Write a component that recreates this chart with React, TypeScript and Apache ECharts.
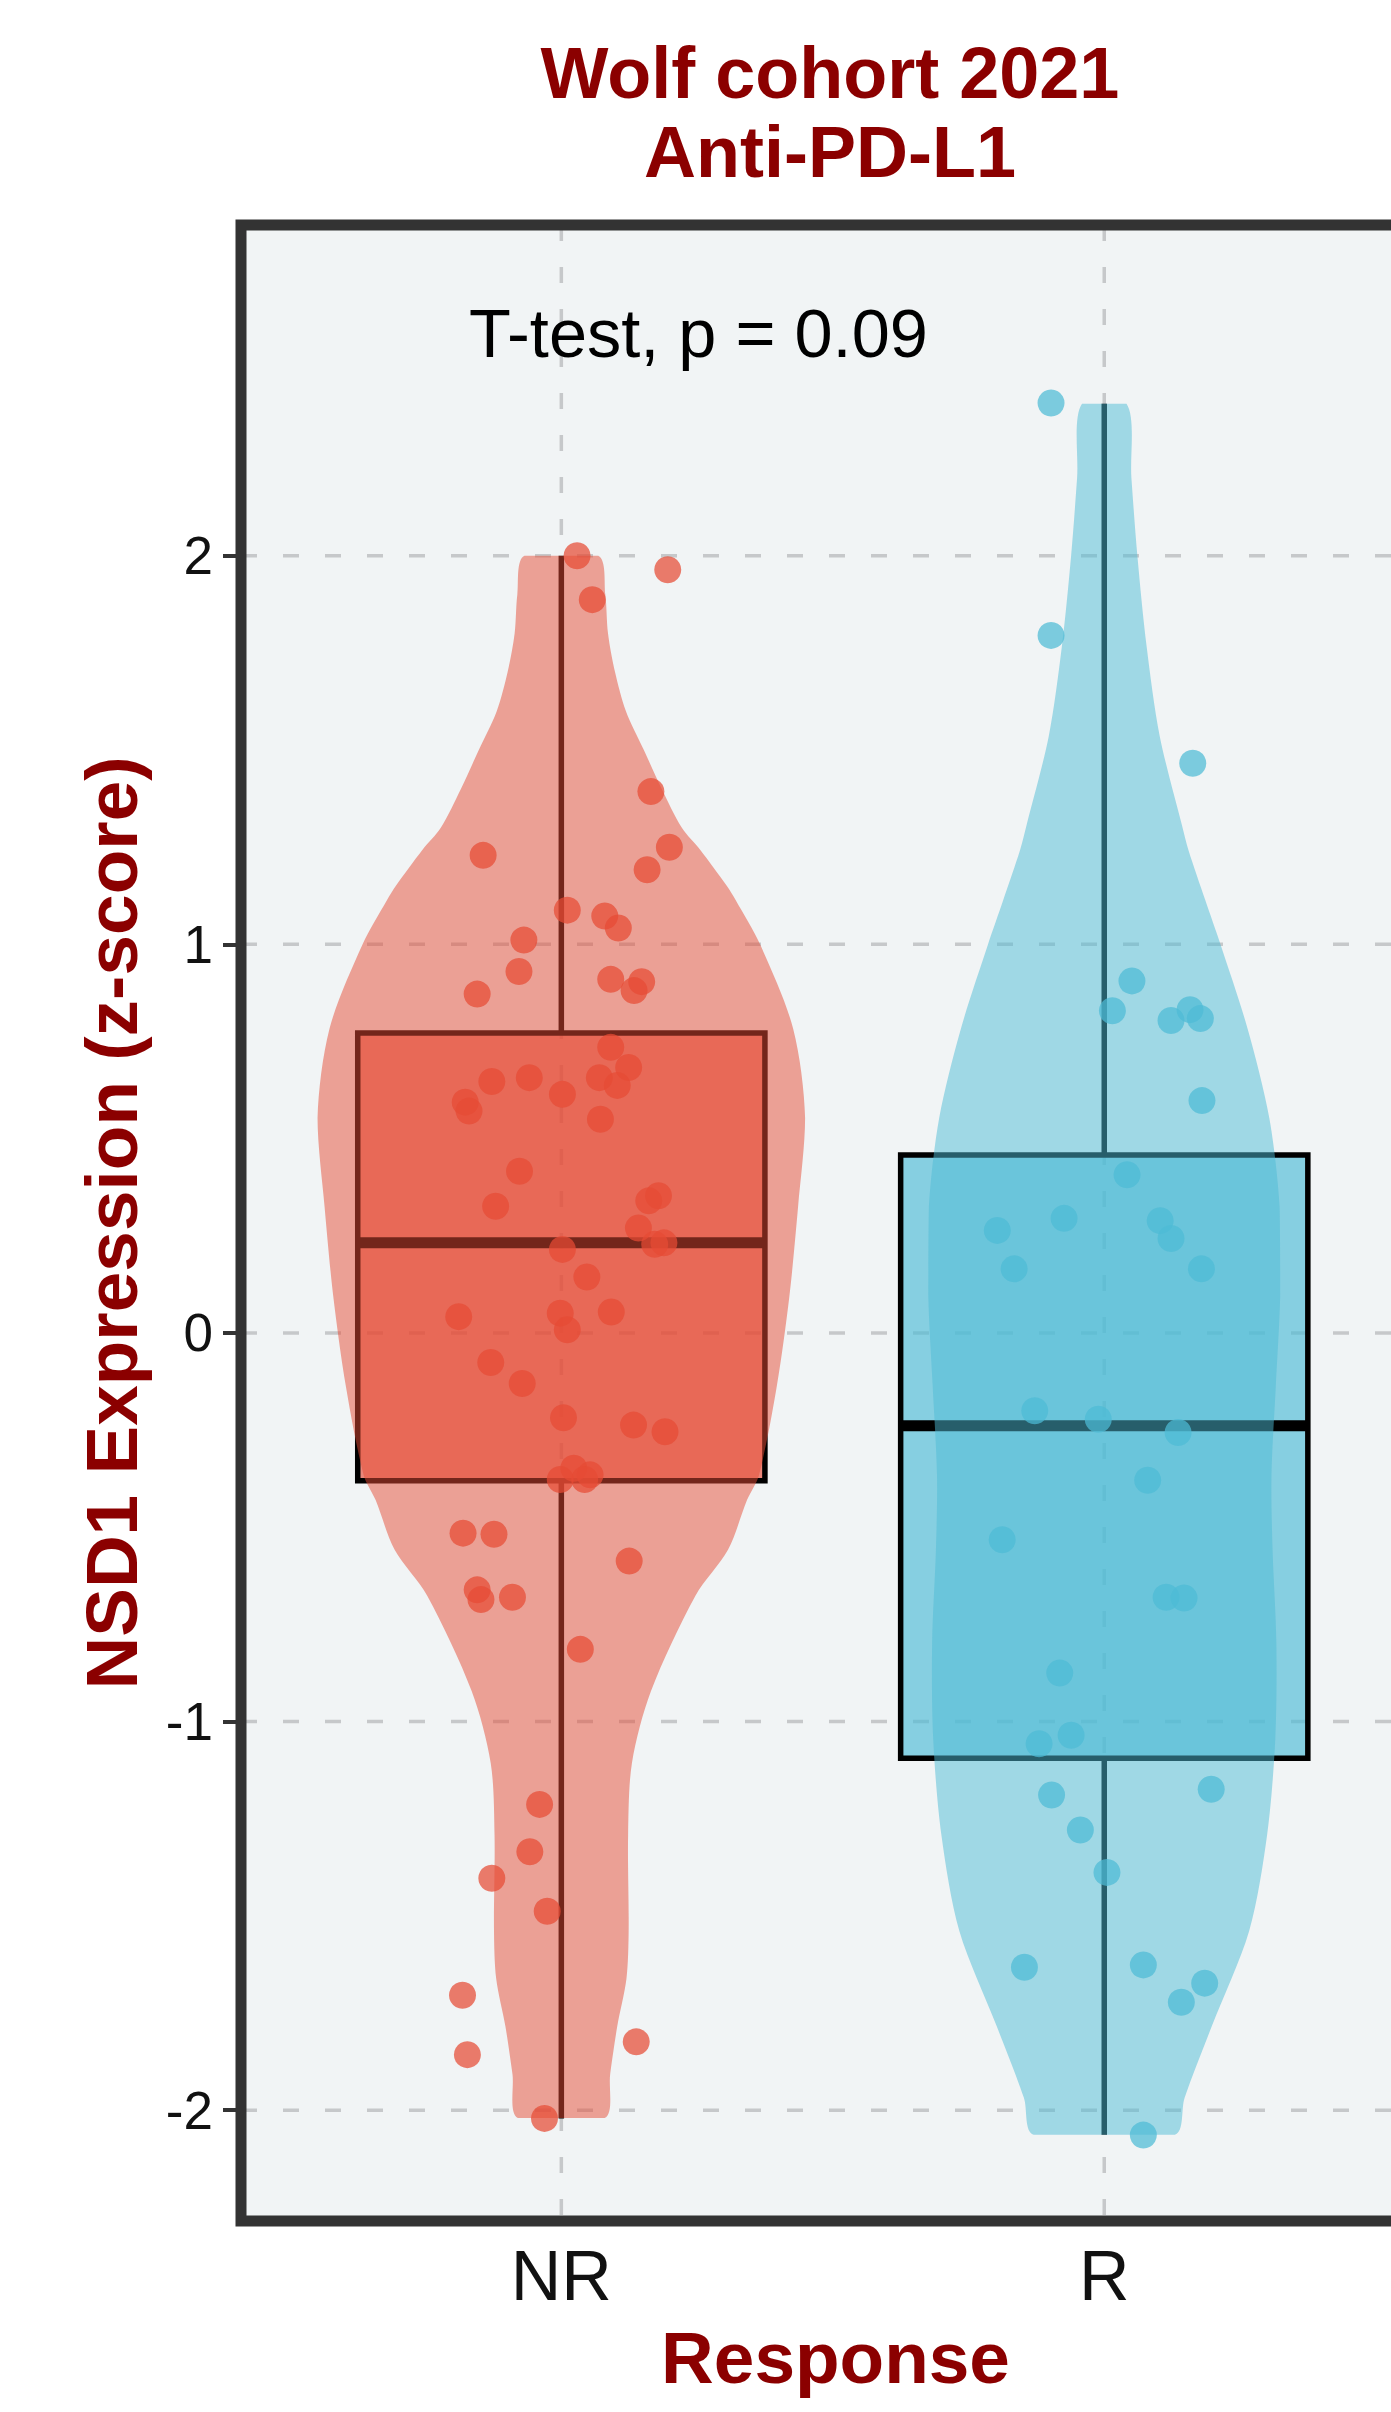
import React, { useEffect, useRef } from "react";
import * as echarts from "echarts";

// ---------- data ----------
const CATEGORIES = ["NR", "R"];
const Y_TICKS = [-2, -1, 0, 1, 2];

const NR_VALUES = [2.0, 1.964, 1.887, 1.393, 1.25, 1.229, 1.192, 1.088, 1.073, 1.042, 1.011, 0.93, 0.91, 0.904, 0.881, 0.872, 0.735, 0.683, 0.647, 0.657, 0.657, 0.637, 0.614, 0.594, 0.571, 0.55, 0.416, 0.326, 0.353, 0.34, 0.27, 0.232, 0.228, 0.215, 0.144, 0.042, 0.051, 0.054, 0.008, -0.076, -0.13, -0.218, -0.237, -0.254, -0.348, -0.365, -0.377, -0.377, -0.515, -0.518, -0.587, -0.661, -0.686, -0.68, -0.814, -1.213, -1.335, -1.403, -1.488, -1.704, -1.857, -1.824, -2.021];
const NR_JITTER = [0.029, 0.196, 0.057, 0.165, 0.199, -0.144, 0.158, 0.011, 0.08, 0.105, -0.069, -0.078, 0.091, 0.148, 0.134, -0.155, 0.091, 0.124, -0.128, -0.059, 0.07, 0.103, 0.002, -0.177, -0.17, 0.072, -0.077, -0.121, 0.179, 0.161, 0.142, 0.189, 0.172, 0.002, 0.047, -0.189, -0.002, 0.092, 0.011, -0.13, -0.072, 0.004, 0.133, 0.191, 0.023, 0.053, 0.043, -0.002, -0.181, -0.124, 0.125, -0.155, -0.148, -0.09, 0.035, -0.04, -0.058, -0.128, -0.026, -0.182, -0.173, 0.138, -0.031];

const R_VALUES = [2.393, 1.795, 1.466, 0.906, 0.829, 0.804, 0.832, 0.809, 0.598, 0.407, 0.264, 0.295, 0.289, 0.243, 0.165, 0.165, -0.2, -0.222, -0.256, -0.379, -0.532, -0.68, -0.682, -0.875, -1.035, -1.057, -1.189, -1.174, -1.279, -1.388, -1.632, -1.626, -1.673, -1.722, -2.064];
const R_JITTER = [-0.098, -0.098, 0.163, 0.051, 0.015, 0.123, 0.158, 0.177, 0.18, 0.042, -0.197, -0.074, 0.103, 0.123, -0.166, 0.179, -0.128, -0.011, 0.136, 0.08, -0.188, 0.114, 0.147, -0.082, -0.061, -0.12, -0.097, 0.197, -0.044, 0.005, -0.147, 0.072, 0.185, 0.142, 0.072];

// box statistics: [min, q1, median, q3, max]
const NR_BOX = [-2.021, -0.38, 0.232, 0.772, 2.0];
const R_BOX = [-2.063, -1.094, -0.239, 0.458, 2.391];

// violin outline: value levels and half-widths (category units)
const NR_VIOLIN_Y = [-2.02, -1.907, -1.784, -1.661, -1.538, -1.291, -1.107, -0.922, -0.676, -0.558, -0.43, -0.366, -0.136, 0.094, 0.324, 0.553, 0.783, 1.0, 1.114, 1.15, 1.243, 1.3, 1.4, 1.5, 1.6, 1.7, 1.8, 1.9, 2.0];
const NR_VIOLIN_HALF = [0.08, 0.09, 0.103, 0.12, 0.124, 0.123, 0.13, 0.165, 0.247, 0.307, 0.342, 0.364, 0.397, 0.42, 0.436, 0.449, 0.427, 0.366, 0.321, 0.305, 0.256, 0.222, 0.185, 0.152, 0.119, 0.099, 0.086, 0.081, 0.068];
const R_VIOLIN_Y = [-2.063, -1.968, -1.784, -1.538, -1.291, -1.045, -0.799, -0.558, -0.366, -0.136, 0.094, 0.324, 0.553, 0.783, 1.0, 1.114, 1.243, 1.307, 1.537, 1.767, 2.0, 2.2, 2.391];
const R_VIOLIN_HALF = [0.13, 0.148, 0.198, 0.267, 0.3, 0.315, 0.317, 0.31, 0.308, 0.316, 0.324, 0.323, 0.304, 0.264, 0.214, 0.186, 0.155, 0.143, 0.102, 0.078, 0.061, 0.05, 0.041];

const TITLE = "Wolf cohort 2021\nAnti-PD-L1";
const Y_NAME = "NSD1 Expression (z-score)";
const X_NAME = "Response";
const ANNOTATION = "T-test, p = 0.09";

// ---------- styling ----------
const FONT = "'Liberation Sans', Arial, Helvetica, sans-serif";
const DARK_RED = "#8B0000";
const GROUP_RGB = [
  [230, 75, 53],
  [77, 187, 213],
];
const rgba = (c: number[], a: number) => `rgba(${c[0]},${c[1]},${c[2]},${a})`;

const X_MIN = 0.41;
const X_MAX = 2.6;
const Y_MIN = -2.285;
const Y_MAX = 2.851;
const GRID_LEFT = 241;
const GRID_TOP = 225;
const GRID_W = 1189;
const GRID_H = 1996;
const BOX_WIDTH = 0.75;

export default function App() {
  const ref = useRef<HTMLDivElement>(null);

  useEffect(() => {
    document.body.style.margin = "0";
    if (!ref.current) return;
    const chart = echarts.init(ref.current, undefined, { renderer: "svg" });

    const violins = [
      { y: NR_VIOLIN_Y, half: NR_VIOLIN_HALF },
      { y: R_VIOLIN_Y, half: R_VIOLIN_HALF },
    ];

    const option: any = {
      animation: false,
      grid: {
        left: GRID_LEFT,
        top: GRID_TOP,
        width: GRID_W,
        height: GRID_H,
        show: true,
        backgroundColor: "#F1F4F5",
        borderWidth: 0,
      },
      xAxis: {
        type: "value",
        min: X_MIN,
        max: X_MAX,
        axisLine: { show: false },
        axisTick: { show: false },
        splitLine: { show: false },
        axisLabel: {
          customValues: [1, 2],
          formatter: (v: number) => CATEGORIES[Math.round(v) - 1],
          fontSize: 70,
          color: "#111",
          fontFamily: FONT,
          margin: 20,
        },
        name: X_NAME,
        nameLocation: "middle",
        nameGap: 100,
        nameTextStyle: { fontSize: 73, fontWeight: "bold", color: DARK_RED, fontFamily: FONT },
      },
      yAxis: {
        type: "value",
        min: Y_MIN,
        max: Y_MAX,
        axisLine: { show: false },
        splitLine: { show: false },
        axisTick: {
          show: true,
          customValues: Y_TICKS,
          length: 18,
          lineStyle: { color: "#333", width: 4 },
        },
        axisLabel: {
          customValues: Y_TICKS,
          formatter: (v: number) => String(v),
          fontSize: 53,
          color: "#111",
          fontFamily: FONT,
          margin: 28,
        },
        name: Y_NAME,
        nameLocation: "middle",
        nameGap: 93,
        nameTextStyle: { fontSize: 73, fontWeight: "bold", color: DARK_RED, fontFamily: FONT },
      },
      graphic: [
        {
          type: "text",
          x: 830,
          y: 34,
          z: 100,
          style: {
            text: TITLE,
            font: `bold 72px ${FONT}`,
            fill: DARK_RED,
            textAlign: "center",
            textVerticalAlign: "top",
            lineHeight: 78.5,
          },
        },
        {
          type: "text",
          x: 469,
          y: 333,
          z: 100,
          style: {
            text: ANNOTATION,
            font: `68.5px ${FONT}`,
            fill: "#000",
            textAlign: "left",
            textVerticalAlign: "middle",
          },
        },
        {
          type: "rect",
          z: 100,
          shape: { x: GRID_LEFT, y: GRID_TOP, width: GRID_W, height: GRID_H },
          style: { fill: "none", stroke: "#333", lineWidth: 11 },
        },
      ],
      series: [
        {
          type: "custom",
          name: "hgrid",
          z: 1,
          silent: true,
          data: Y_TICKS.map((v) => [v]),
          encode: { y: 0 },
          renderItem: (params: any, api: any) => {
            const v = api.value(0);
            const p1 = api.coord([X_MIN, v]);
            const p2 = api.coord([X_MAX, v]);
            return {
              type: "line",
              shape: { x1: p1[0], y1: p1[1], x2: p2[0], y2: p2[1] },
              style: { stroke: "#C6C8CA", lineWidth: 3.5, lineDash: [16, 26] },
            };
          },
        },
        {
          type: "custom",
          name: "vgrid",
          z: 1,
          silent: true,
          data: CATEGORIES.map((_, i) => [i + 1]),
          encode: { x: 0 },
          renderItem: (params: any, api: any) => {
            const x = api.value(0);
            const p1 = api.coord([x, Y_MAX]);
            const p2 = api.coord([x, Y_MIN]);
            return {
              type: "line",
              shape: { x1: p1[0], y1: p1[1], x2: p2[0], y2: p2[1] },
              style: { stroke: "#C6C8CA", lineWidth: 3.5, lineDash: [16, 26] },
            };
          },
        },
        {
          type: "custom",
          name: "box",
          z: 2,
          silent: true,
          data: [
            [1, ...NR_BOX],
            [2, ...R_BOX],
          ],
          encode: { x: 0, y: [1, 2, 3, 4, 5] },
          renderItem: (params: any, api: any) => {
            const x = api.value(0);
            const mn = api.value(1);
            const q1 = api.value(2);
            const md = api.value(3);
            const q3 = api.value(4);
            const mx = api.value(5);
            const h = BOX_WIDTH / 2;
            const tl = api.coord([x - h, q3]);
            const br = api.coord([x + h, q1]);
            const ml = api.coord([x - h, md]);
            const mr = api.coord([x + h, md]);
            const pMax = api.coord([x, mx]);
            const pQ3 = api.coord([x, q3]);
            const pQ1 = api.coord([x, q1]);
            const pMin = api.coord([x, mn]);
            const c = GROUP_RGB[params.dataIndex];
            return {
              type: "group",
              children: [
                {
                  type: "line",
                  shape: { x1: pMax[0], y1: pMax[1], x2: pQ3[0], y2: pQ3[1] },
                  style: { stroke: "#000", lineWidth: 5.5 },
                },
                {
                  type: "line",
                  shape: { x1: pQ1[0], y1: pQ1[1], x2: pMin[0], y2: pMin[1] },
                  style: { stroke: "#000", lineWidth: 5.5 },
                },
                {
                  type: "rect",
                  shape: { x: tl[0], y: tl[1], width: br[0] - tl[0], height: br[1] - tl[1] },
                  style: { fill: rgba(c, 0.65), stroke: "#000", lineWidth: 5.5 },
                },
                {
                  type: "line",
                  shape: { x1: ml[0], y1: ml[1], x2: mr[0], y2: mr[1] },
                  style: { stroke: "#000", lineWidth: 11 },
                },
              ],
            };
          },
        },
        {
          type: "custom",
          name: "violin",
          z: 3,
          silent: true,
          data: [[1], [2]],
          encode: { x: 0 },
          renderItem: (params: any, api: any) => {
            const x = api.value(0);
            const vi = violins[params.dataIndex];
            const pts: number[][] = [];
            for (let i = 0; i < vi.y.length; i++) pts.push(api.coord([x + vi.half[i], vi.y[i]]));
            for (let i = vi.y.length - 1; i >= 0; i--) pts.push(api.coord([x - vi.half[i], vi.y[i]]));
            let minX = Infinity, minY = Infinity, maxX = -Infinity, maxY = -Infinity;
            for (const p of pts) {
              minX = Math.min(minX, p[0]);
              maxX = Math.max(maxX, p[0]);
              minY = Math.min(minY, p[1]);
              maxY = Math.max(maxY, p[1]);
            }
            const c = GROUP_RGB[params.dataIndex];
            return {
              type: "polygon",
              shape: {
                points: pts,
                smooth: 0.3,
                smoothConstraint: [
                  [minX, minY],
                  [maxX, maxY],
                ],
              },
              style: { fill: rgba(c, 0.5), stroke: "none" },
            };
          },
        },
        {
          type: "scatter",
          name: "NR",
          z: 4,
          symbol: "circle",
          symbolSize: 27,
          itemStyle: { color: rgba(GROUP_RGB[0], 0.9) },
          data: NR_VALUES.map((v, i) => [1 + NR_JITTER[i], v]),
        },
        {
          type: "scatter",
          name: "R",
          z: 4,
          symbol: "circle",
          symbolSize: 27,
          itemStyle: { color: rgba(GROUP_RGB[1], 0.9) },
          data: R_VALUES.map((v, i) => [2 + R_JITTER[i], v]),
        },
      ],
    };

    chart.setOption(option);
    return () => chart.dispose();
  }, []);

  return (
    <div style={{ position: "absolute", left: 0, top: 0, width: 1391, height: 2412, overflow: "hidden", background: "#fff" }}>
      <div ref={ref} style={{ width: 1500, height: 2412 }} />
    </div>
  );
}
